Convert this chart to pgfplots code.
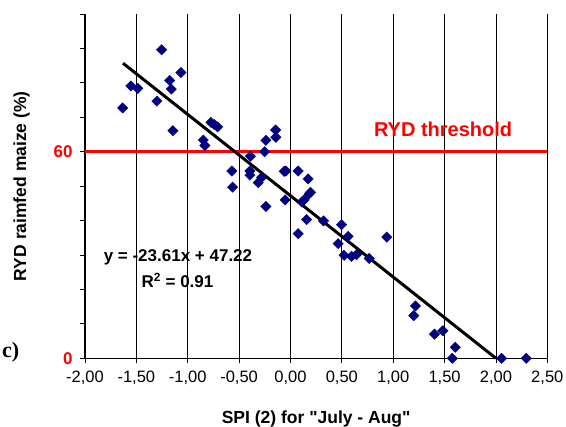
\documentclass[border=0pt]{standalone}
\usepackage{pgfplots}
\pgfplotsset{compat=1.18}
\usepackage{fontspec}
\setmainfont{Liberation Sans}
\newfontfamily\plainsans[Ligatures=TeXOff]{Liberation Sans}
\newfontfamily\timesfont{Liberation Serif}
\definecolor{navy}{RGB}{0,0,128}
\definecolor{ryd}{RGB}{255,0,0}

\begin{document}
\begin{tikzpicture}[x=1pt,y=1pt]
\path[use as bounding box] (-85,-68.7) rectangle (481,358.3);
\begin{axis}[
  at={(0,0)}, anchor=south west,
  scale only axis, width=462.3pt, height=344.3pt,
  xmin=-2, xmax=2.5, ymin=0, ymax=100,
  clip=false,
  axis lines=left,
  axis line style={-, line width=1pt},
  xtick={-2,-1.5,-1,-0.5,0,0.5,1,1.5,2,2.5},
  xticklabels={{-2,00},{-1,50},{-1,00},{-0,50},{0,00},{0,50},{1,00},{1,50},{2,00},{2,50}},
  xmajorgrids,
  major grid style={black, line width=0.8pt},
  ytick={0,60},
  yticklabels={0,60},
  minor ytick={10,20,30,40,50,70,80,90,100},
  tick align=outside,
  major tick length=5pt, minor tick length=5pt,
  tick style={black, line width=0.8pt},
  xticklabel style={font=\fontsize{16.5}{18}\selectfont, yshift=-4pt},
  yticklabel style={font=\fontsize{17}{19}\selectfont\bfseries, text=ryd, xshift=-4pt},
  xlabel={SPI (2) for "July - Aug"},
  ylabel={RYD raimfed maize (\%)},
  xlabel style={font=\fontsize{17.5}{20}\selectfont\plainsans\bfseries, at={(axis description cs:0.5,-0.177)}, anchor=center},
  ylabel style={font=\fontsize{17.5}{20}\selectfont\bfseries, at={(axis description cs:-0.137,0.5)}, anchor=center},
]
\addplot[ryd, line width=3.2pt] coordinates {(-2,60) (2.5,60)};
\addplot[only marks, mark=square*, mark size=3.7pt, mark options={rotate=45, fill=navy, draw=navy, line width=0.3pt}] coordinates {
(-1.633,72.7) (-1.553,79.1) (-1.487,78.4) (-1.254,89.6) (-1.300,74.7)
(-1.176,80.7) (-1.160,78.2) (-1.066,83.0) (-1.144,66.1) (-0.774,68.5)
(-0.742,67.9) (-0.709,67.2) (-0.849,63.4) (-0.833,61.8) (-0.390,58.7)
(-0.252,60.0) (-0.239,63.3) (-0.144,66.3) (-0.142,64.2) (-0.570,54.4)
(-0.563,49.7) (-0.395,54.4) (-0.395,53.2) (-0.314,51.0) (-0.281,52.5)
(-0.239,44.1) (-0.061,54.3) (-0.045,54.4) (-0.052,46.0) (0.075,54.4)
(0.172,52.1) (0.196,48.2) (0.180,47.7) (0.133,46.0) (0.110,45.4)
(0.157,40.3) (0.075,36.2) (0.322,39.9) (0.497,38.8) (0.464,33.3)
(0.561,35.4) (0.522,29.9) (0.594,29.6) (0.643,30.1) (0.766,29.0)
(0.938,35.2) (1.217,15.2) (1.200,12.4) (1.402,7.0) (1.483,8.0)
(1.604,3.2) (1.575,0.0) (2.055,0.0) (2.295,0.0)
};
\addplot[black, line width=3pt] coordinates {(-1.63,85.70) (2.0,0.0)};
\node[font=\fontsize{20}{22}\selectfont\bfseries, text=ryd] at (axis cs:1.486,66.5) {RYD threshold};
\node[font=\fontsize{17}{19}\selectfont\bfseries] at (axis cs:-1.095,29.4) {y = -23.61x + 47.22};
\node[font=\fontsize{17}{19}\selectfont\bfseries] at (axis cs:-1.10,22.6) {R\textsuperscript{2} = 0.91};
\node[font=\fontsize{22}{24}\selectfont\timesfont\bfseries] at (axis description cs:-0.1607,0.019) {c)};
\end{axis}
\end{tikzpicture}
\end{document}
